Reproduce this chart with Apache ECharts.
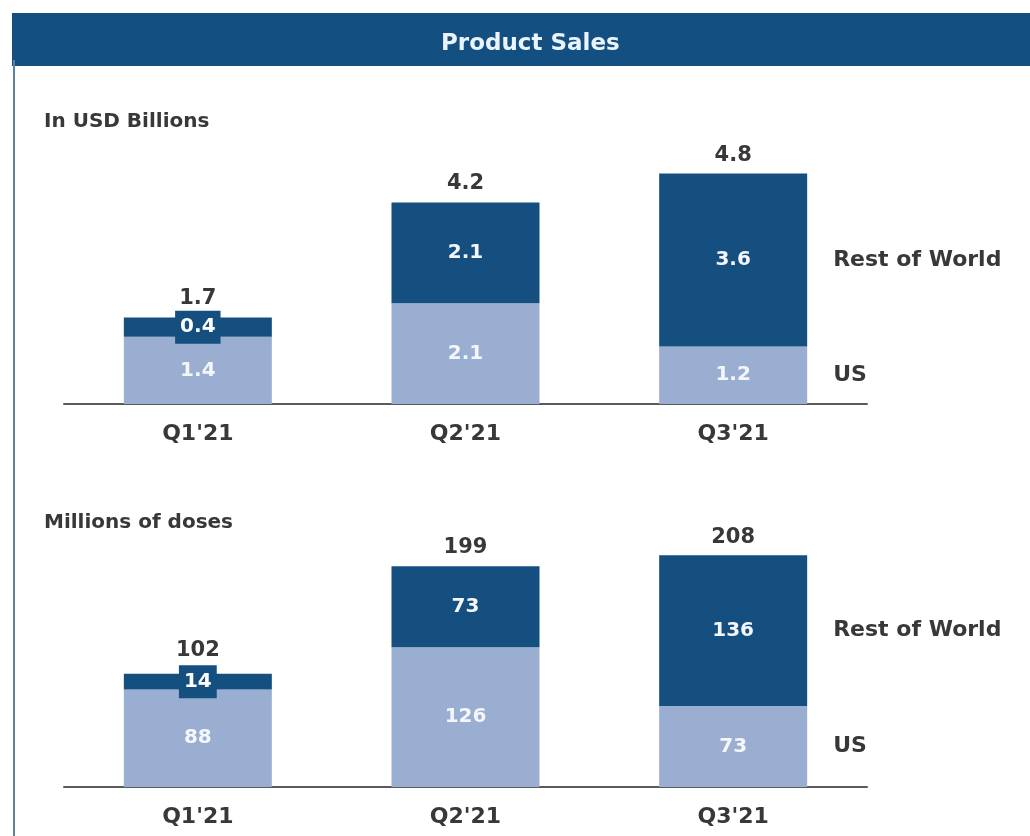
<!DOCTYPE html>
<html>
<head>
<meta charset="utf-8">
<script src="https://cdn.jsdelivr.net/npm/echarts@6/dist/echarts.min.js"></script>
<style>
html,body{margin:0;padding:0;background:#fff;}
#chart{width:1030px;height:836px;}
</style>
</head>
<body>
<div id="chart"></div>
<script>
// ---- data ----
const categories = ["Q1'21", "Q2'21", "Q3'21"];
const seriesNames = ["US", "Rest of World"];
const usdUS = [1.4, 2.1, 1.2];
const usdRoW = [0.4, 2.1, 3.6];
const usdTotal = [1.7, 4.2, 4.8];
const dosesUS = [88, 126, 73];
const dosesRoW = [14, 73, 136];
const dosesTotal = [102, 199, 208];
const chartTitle = "Product Sales";
const panelTitles = ["In USD Billions", "Millions of doses"];

// ---- style ----
const DARK = '#144f80';
const LIGHT = '#9aaed1';
const TEXT = '#383838';
const FONT = 'DejaVu Sans';

function buildSeries(idx, us, row, total) {
  const common = {
    type: 'bar', xAxisIndex: idx, yAxisIndex: idx, barWidth: 148, barGap: '-100%'
  };
  const valLabel = {
    show: true, position: 'inside', color: '#f4f6fb',
    fontFamily: FONT, fontWeight: 'bold', fontSize: 20
  };
  const isSmall = i => row[i] / total[i] < 0.3;
  return [
    Object.assign({}, common, {
      name: seriesNames[0], stack: 'main' + idx,
      itemStyle: { color: LIGHT },
      label: valLabel,
      data: us
    }),
    Object.assign({}, common, {
      name: seriesNames[1], stack: 'main' + idx,
      itemStyle: { color: DARK },
      label: valLabel,
      data: row.map((v, i) => isSmall(i) ? {
        value: v,
        label: { backgroundColor: DARK, padding: [7, 5, 6, 5], color: '#ffffff' }
      } : v)
    }),
    Object.assign({}, common, {
      name: 'Total', silent: true,
      itemStyle: { color: 'rgba(0,0,0,0)' },
      label: { show: true, position: 'top', distance: 8, color: TEXT,
        fontFamily: FONT, fontWeight: 'bold', fontSize: 21 },
      data: total.map((v, i) => isSmall(i) ? { value: v, label: { distance: 13 } } : v),
      z: 1
    }),
    // ghost stacks carrying the series-name labels on the last category
    ...[us, row].map((arr, k) => Object.assign({}, common, {
      name: seriesNames[k] + ' label', stack: 'ghost' + idx, silent: true,
      itemStyle: { color: 'rgba(0,0,0,0)' },
      z: 1,
      data: arr.map((v, i) => i === arr.length - 1 ? {
        value: v,
        label: { show: true, position: 'right', distance: 26, formatter: seriesNames[k],
          color: TEXT, fontFamily: FONT, fontWeight: 'bold', fontSize: 22 }
      } : v)
    }))
  ];
}

const chart = echarts.init(document.getElementById('chart'));
chart.setOption({
  animation: false,
  backgroundColor: '#ffffff',
  graphic: [
    { type: 'rect', shape: { x: 12, y: 13, width: 1018, height: 53 }, style: { fill: '#134f80' }, z: -1 },
    { type: 'line', shape: { x1: 14, y1: 60, x2: 14, y2: 836 }, style: { stroke: '#5f7f9e', lineWidth: 2 }, z: -1 }
  ],
  title: [
    { text: chartTitle, left: 436, top: 28, textStyle: { color: '#eaf4ff', fontFamily: FONT, fontWeight: 'bold', fontSize: 23 } },
    { text: panelTitles[0], left: 39, top: 107, textStyle: { color: TEXT, fontFamily: FONT, fontWeight: 'bold', fontSize: 20 } },
    { text: panelTitles[1], left: 39, top: 508, textStyle: { color: TEXT, fontFamily: FONT, fontWeight: 'bold', fontSize: 20 } }
  ],
  grid: [
    { left: 64, right: 163, top: 164, height: 240 },
    { left: 64, right: 163, top: 543, height: 244 }
  ],
  xAxis: [0, 1].map(i => ({
    type: 'category', gridIndex: i, data: categories,
    axisLine: { lineStyle: { color: '#5a5a5a', width: 2 } },
    axisTick: { show: false },
    axisLabel: { color: TEXT, fontFamily: FONT, fontWeight: 'bold', fontSize: 22, margin: 19 }
  })),
  yAxis: [
    { type: 'value', gridIndex: 0, min: 0, max: 5, show: false, splitLine: { show: false } },
    { type: 'value', gridIndex: 1, min: 0, max: 220, show: false, splitLine: { show: false } }
  ],
  series: [
    ...buildSeries(0, usdUS, usdRoW, usdTotal),
    ...buildSeries(1, dosesUS, dosesRoW, dosesTotal)
  ]
});
</script>
</body>
</html>
